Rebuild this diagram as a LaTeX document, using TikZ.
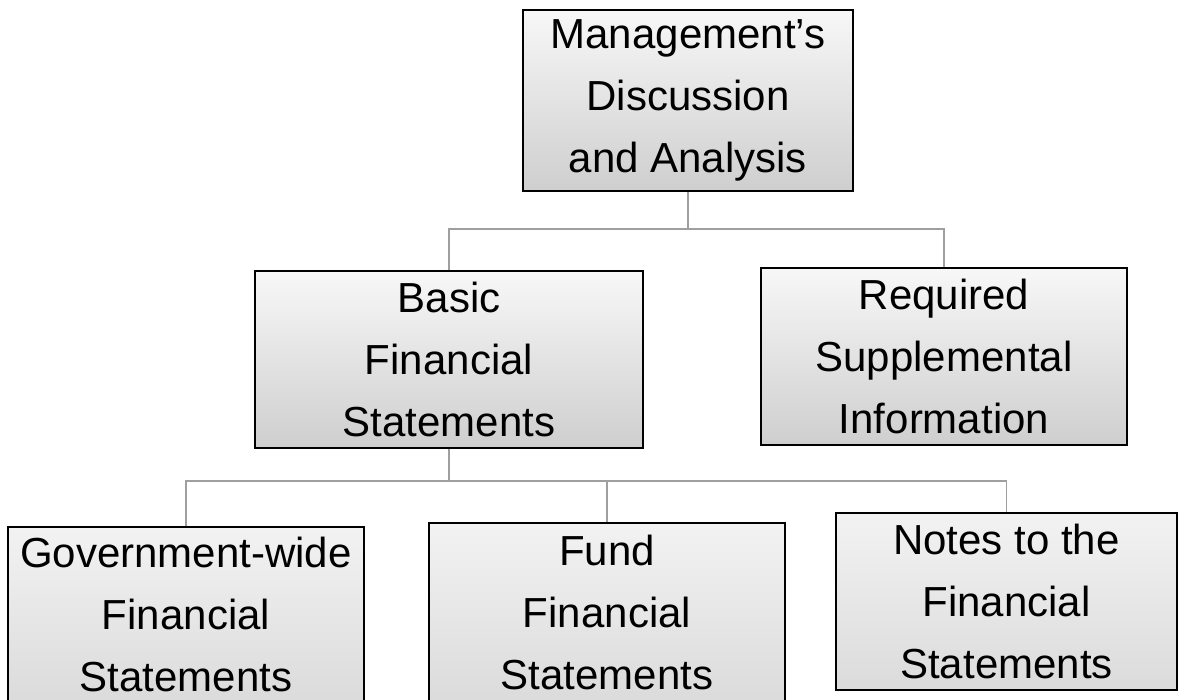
\documentclass[tikz,border=0pt]{standalone}
\usepackage{fontspec}
\setmainfont{Liberation Sans}
\begin{document}
\begin{tikzpicture}[x=1pt,y=-1pt,
  box/.style={draw=black, line width=1.3pt, rectangle, inner sep=0pt, align=center,
    top color=gray!6, bottom color=gray!38,
    font=\fontsize{42}{62}\selectfont},
  lowbox/.style={box, top color=gray!10, bottom color=gray!28},
  conn/.style={draw=gray!75, line width=1.6pt}]
\useasboundingbox (0,0) rectangle (1179,700);
\node[box, minimum width=330pt, minimum height=181pt] (mda) at (688,100.5)
  {Management’s\\Discussion\\and Analysis};
\node[box, minimum width=388pt, minimum height=177pt] (basic) at (449,359.5)
  {Basic\\Financial\\Statements};
\node[box, minimum width=366pt, minimum height=177pt] (rsi) at (944,356.5)
  {Required\\Supplemental\\Information};
\node[lowbox, minimum width=356pt, minimum height=174pt] (gov) at (186,614)
  {Government-wide\\Financial\\Statements};
\node[lowbox, minimum width=356pt, minimum height=178pt] (fund) at (607,612)
  {Fund\\Financial\\Statements};
\node[lowbox, minimum width=341pt, minimum height=177pt] (notes) at (1006.5,601.5)
  {Notes to the\\Financial\\Statements};
\coordinate (j1) at (688,229);
\coordinate (j2) at (449,481);
\draw[conn] (mda.south) -- (j1);
\draw[conn] (basic.north) |- (j1) -| (rsi.north);
\draw[conn] (basic.south) -- (j2);
\draw[conn] (gov.north) |- (j2) -| (notes.north);
\draw[conn] (fund.north) -- (fund.north |- j2);
\end{tikzpicture}
\end{document}
